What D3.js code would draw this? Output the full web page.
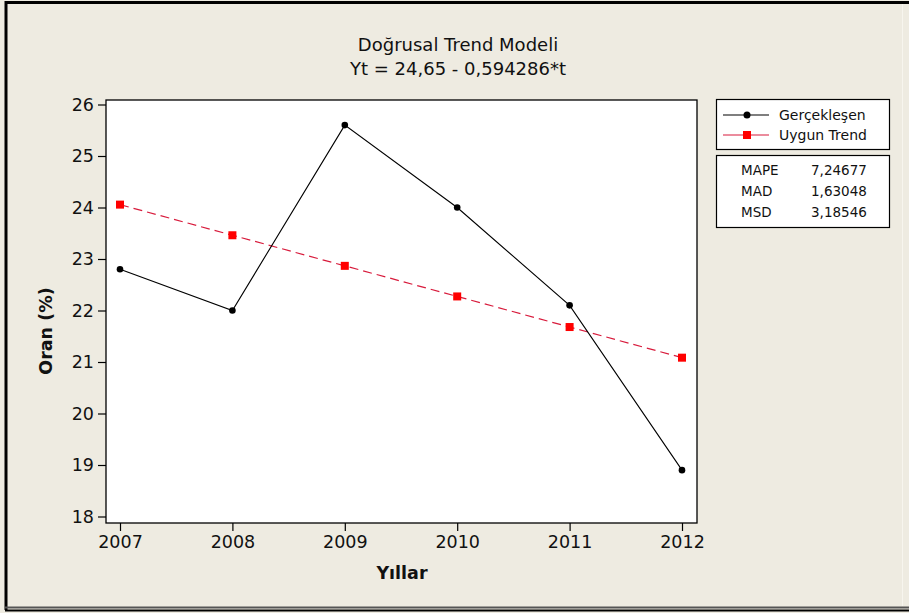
<!DOCTYPE html>
<html><head><meta charset="utf-8">
<script src="https://cdn.jsdelivr.net/npm/d3@7/dist/d3.min.js"></script>
<style>body{margin:0;background:#fff}svg{display:block}</style>
</head><body>
<script>
const years = [2007, 2008, 2009, 2010, 2011, 2012];
const actual = [22.8, 22.0, 25.6, 24.0, 22.1, 18.9];
const trend = [24.056, 23.461, 22.867, 22.273, 21.679, 21.084];
const yTicks = [18, 19, 20, 21, 22, 23, 24, 25, 26];
const titleLines = ["Doğrusal Trend Modeli", "Yt = 24,65 - 0,594286*t"];
const seriesNames = ["Gerçekleşen", "Uygun Trend"];
const statNames = ["MAPE", "MAD", "MSD"];
const statValues = ["7,24677", "1,63048", "3,18546"];

const W = 909, H = 613;
const font = "Tahoma, 'DejaVu Sans', Verdana, sans-serif";
const svg = d3.select("body").append("svg").attr("width", W).attr("height", H);

// background and frame
svg.append("rect").attr("x",0).attr("y",0).attr("width",W).attr("height",H).attr("fill","#EEEBE1");
svg.append("line").attr("x1",6).attr("x2",6).attr("y1",1).attr("y2",610).attr("stroke","#000").attr("stroke-width",3);
svg.append("line").attr("x1",5).attr("x2",909).attr("y1",2.5).attr("y2",2.5).attr("stroke","#000").attr("stroke-width",3);
svg.append("line").attr("x1",5).attr("x2",909).attr("y1",607.5).attr("y2",607.5).attr("stroke","#555").attr("stroke-width",2);
svg.append("line").attr("x1",5).attr("x2",909).attr("y1",610.5).attr("y2",610.5).attr("stroke","#000").attr("stroke-width",2);
svg.append("line").attr("x1",902.5).attr("x2",902.5).attr("y1",4).attr("y2",606).attr("stroke","#F7F5EE").attr("stroke-width",1);

const L = 106, R = 697, T = 100, B = 523;
const x = d3.scalePoint().domain(years).range([120, 682]);
const y = d3.scaleLinear().domain([18, 26]).range([516.5, 104.5]);

svg.append("rect").attr("x",L).attr("y",T).attr("width",R-L).attr("height",B-T)
  .attr("fill","#fff").attr("stroke","#000").attr("stroke-width",1.3);

// axes
const yAxis = svg.append("g").attr("transform",`translate(${L},0)`)
  .call(d3.axisLeft(y).tickValues(yTicks).tickSize(8).tickPadding(4).tickFormat(d3.format("d")));
const xAxis = svg.append("g").attr("transform",`translate(0,${B})`)
  .call(d3.axisBottom(x).tickSize(8).tickPadding(5).tickFormat(d3.format("d")));
[yAxis, xAxis].forEach(g => {
  g.select(".domain").remove();
  g.selectAll("line").attr("stroke","#000").attr("stroke-width",1.2);
  g.selectAll("text").attr("fill","#111").style("font-family",font).style("font-size","17.5px");
});

// titles
svg.selectAll(".title").data(titleLines).enter().append("text")
  .attr("x", 458).attr("y",(d,i)=>51+i*24).attr("text-anchor","middle")
  .style("font-family",font).style("font-size","18px").attr("fill","#111").text(d=>d);

svg.append("text").attr("x",402).attr("y",579).attr("text-anchor","middle")
  .style("font-family",font).style("font-size","17.5px").style("font-weight","bold").attr("fill","#111").text("Yıllar");
svg.append("text").attr("transform","translate(52,331) rotate(-90)").attr("text-anchor","middle")
  .style("font-family",font).style("font-size","17.5px").style("font-weight","bold").attr("fill","#111").text("Oran (%)");

// trend line
const line = d3.line().x((d,i)=>x(years[i])).y(d=>y(d));
svg.append("path").datum(trend).attr("d",line).attr("fill","none")
  .attr("stroke","#D81B3C").attr("stroke-width",1.2).attr("stroke-dasharray","9,5");
svg.selectAll(".tm").data(trend).enter().append("rect")
  .attr("x",(d,i)=>x(years[i])-4).attr("y",d=>y(d)-4).attr("width",8).attr("height",8).attr("fill","#FF0000");

// actual line
svg.append("path").datum(actual).attr("d",line).attr("fill","none").attr("stroke","#000").attr("stroke-width",1.1);
svg.selectAll(".am").data(actual).enter().append("circle")
  .attr("cx",(d,i)=>x(years[i])).attr("cy",d=>y(d)).attr("r",3.3).attr("fill","#000");

// legend
svg.append("rect").attr("x",716.5).attr("y",99.5).attr("width",173).attr("height",50).attr("fill","#fff").attr("stroke","#000").attr("stroke-width",1.2);
svg.append("line").attr("x1",723).attr("x2",769).attr("y1",115).attr("y2",115).attr("stroke","#000").attr("stroke-width",1.2);
svg.append("circle").attr("cx",747).attr("cy",115).attr("r",3.5).attr("fill","#000");
svg.append("line").attr("x1",723).attr("x2",769).attr("y1",135).attr("y2",135).attr("stroke","#D81B3C").attr("stroke-width",1.2);
svg.append("rect").attr("x",743).attr("y",131).attr("width",8).attr("height",8).attr("fill","#FF0000");
svg.selectAll(".lg").data(seriesNames).enter().append("text")
  .attr("x",779).attr("y",(d,i)=>120+i*20).style("font-family",font).style("font-size","14px").attr("fill","#111").text(d=>d);

svg.append("rect").attr("x",716.5).attr("y",155.5).attr("width",173).attr("height",72).attr("fill","#fff").attr("stroke","#000").attr("stroke-width",1.2);
svg.selectAll(".sn").data(statNames).enter().append("text")
  .attr("x",741).attr("y",(d,i)=>175+i*21).style("font-family",font).style("font-size","13.5px").attr("fill","#111").text(d=>d);
svg.selectAll(".sv").data(statValues).enter().append("text")
  .attr("x",811).attr("y",(d,i)=>175+i*21).style("font-family",font).style("font-size","13.5px").attr("fill","#111").text(d=>d);
</script>
</body></html>
